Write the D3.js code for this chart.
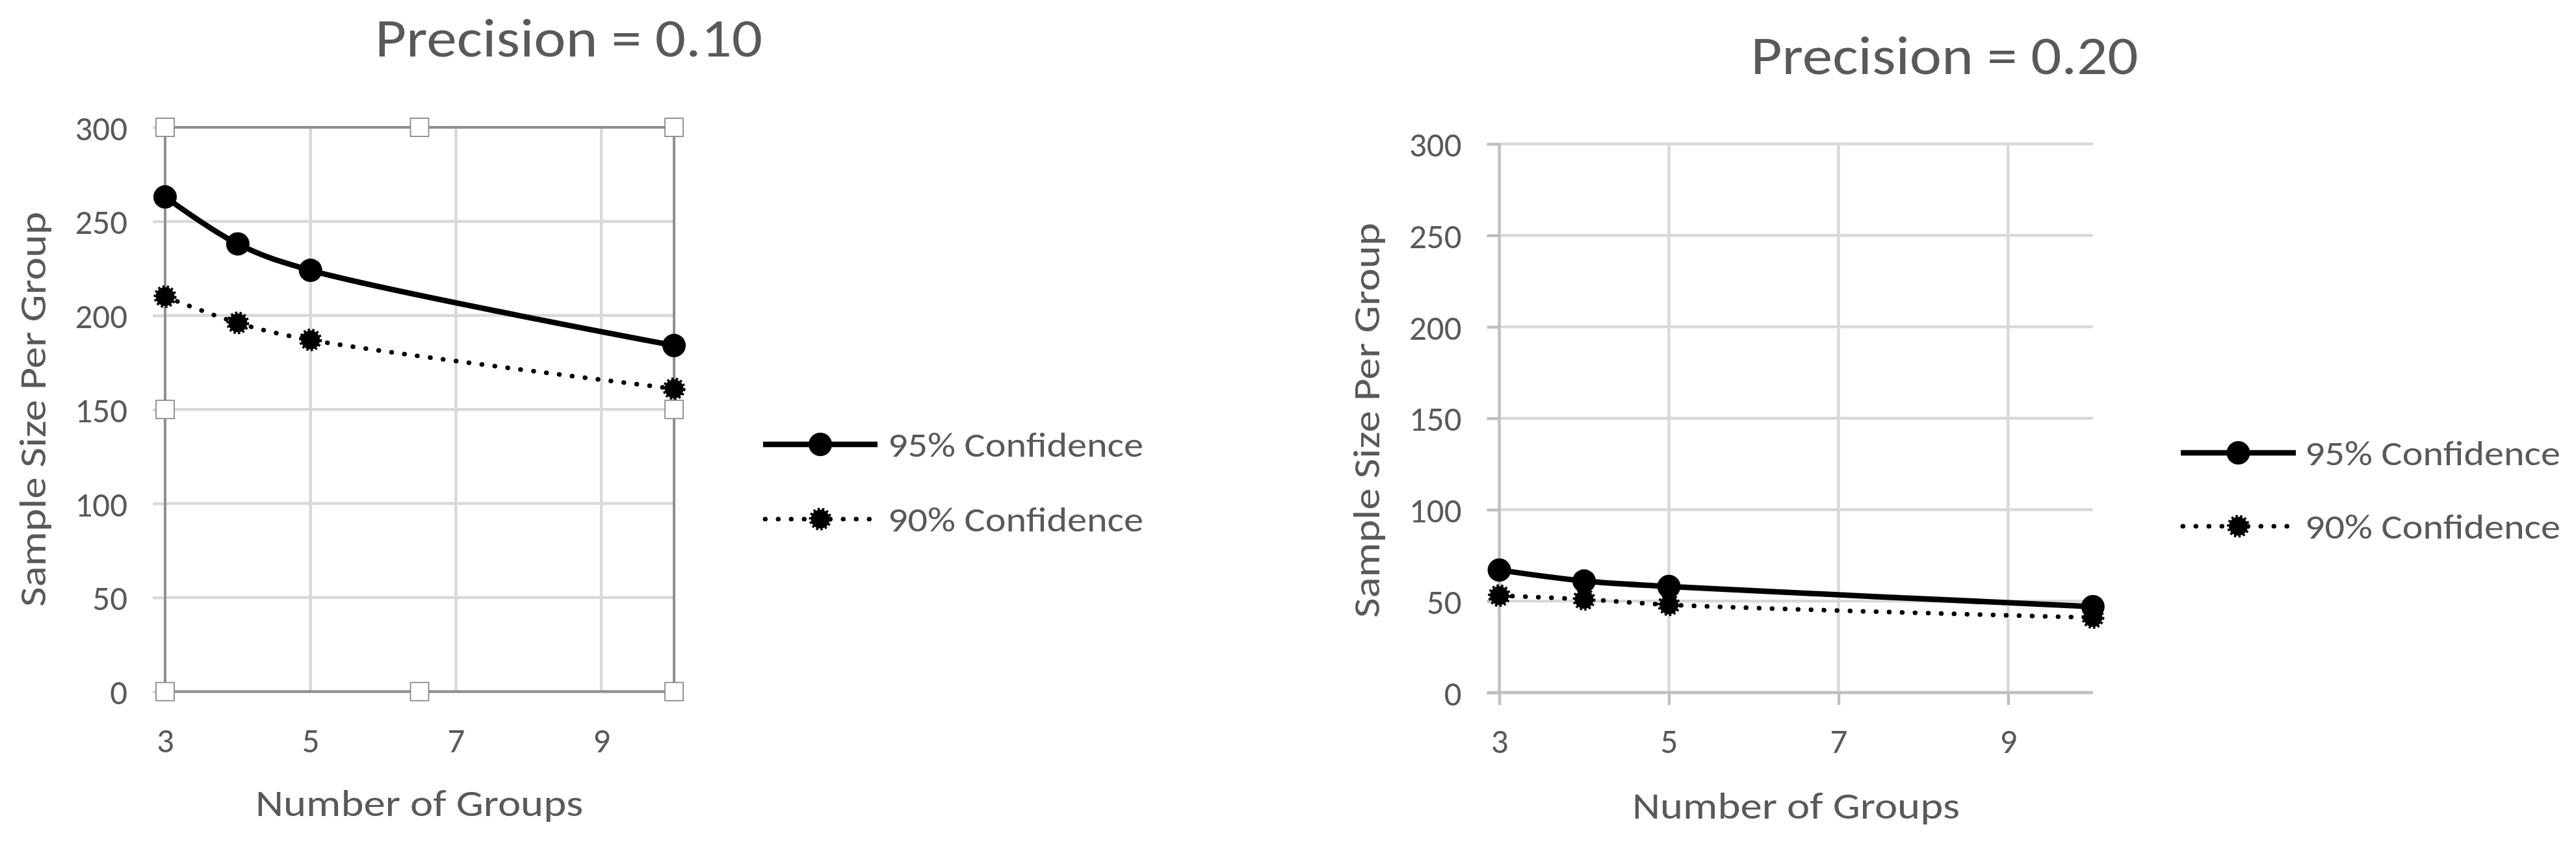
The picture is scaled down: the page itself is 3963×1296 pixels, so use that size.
<!DOCTYPE html>
<html>
<head>
<meta charset="utf-8">
<script src="https://cdn.jsdelivr.net/npm/d3@7"></script>
<style>
  html, body { margin: 0; padding: 0; background: #ffffff; }
  svg { display: block; }
  text { font-family: Carlito, Calibri, Lato, "Open Sans", sans-serif; fill: #595959; }
</style>
</head>
<body>
<svg id="chart" width="3963" height="1296"></svg>
<script>
// ---- data ----
const groups = [3, 4, 5, 10];
const xTicks = [3, 5, 7, 9];
const yTicks = [0, 50, 100, 150, 200, 250, 300];
const conf95_p10 = [263, 238, 224, 184];
const conf90_p10 = [210, 196, 187, 161];
const conf95_p20 = [67, 61, 58, 47];
const conf90_p20 = [53, 51, 48, 41];
const titles = ["Precision = 0.10", "Precision = 0.20"];
const seriesNames = ["95% Confidence", "90% Confidence"];
const xAxisTitle = "Number of Groups";
const yAxisTitle = "Sample Size Per Group";

// ---- layout ----
const panels = [
  { title: titles[0], s95: conf95_p10, s90: conf90_p10, selected: true,
    plot: { x0: 254, x1: 1037, y0: 196, y1: 1064.5 },
    titlePos: { x: 875, y: 87 }, yTitle: { x: 70, y: 630 }, xTitle: { x: 645, y: 1256 },
    legend: { lx0: 1174, lx1: 1350, tx: 1366, rows: [684, 799] } },
  { title: titles[1], s95: conf95_p20, s90: conf90_p20, selected: false,
    plot: { x0: 2306.6, x1: 3219.8, y0: 221.5, y1: 1066 },
    titlePos: { x: 2991.5, y: 114 }, yTitle: { x: 2122, y: 647 }, xTitle: { x: 2763, y: 1260 },
    legend: { lx0: 3355, lx1: 3532, tx: 3546, rows: [697, 810] } }
];

const svg = d3.select("#chart");
const GRID = "#d9d9d9";

function marker95(sel) {
  sel.attr("r", 18).attr("fill", "#000");
}
function marker90(sel) {
  sel.attr("r", 14.5).attr("fill", "#000").attr("stroke", "#000")
     .attr("stroke-width", 6).attr("stroke-dasharray", "3.2 3.2");
}

panels.forEach(p => {
  const g = svg.append("g");
  const x = d3.scaleLinear().domain([3, 10]).range([p.plot.x0, p.plot.x1]);
  const y = d3.scaleLinear().domain([0, 300]).range([p.plot.y1, p.plot.y0]);
  const axisCol = p.selected ? "#8f8f8f" : "#bfbfbf";

  // horizontal gridlines
  g.append("g").selectAll("line").data(yTicks).join("line")
    .attr("x1", p.plot.x0).attr("x2", p.plot.x1)
    .attr("y1", d => y(d)).attr("y2", d => y(d))
    .attr("stroke", GRID).attr("stroke-width", 4.5);
  // vertical gridlines
  g.append("g").selectAll("line").data(xTicks.filter(d => d !== 3)).join("line")
    .attr("x1", d => x(d)).attr("x2", d => x(d))
    .attr("y1", p.plot.y0).attr("y2", p.plot.y1)
    .attr("stroke", GRID).attr("stroke-width", 4.5);

  // y axis (tick marks + labels)
  const yAx = g.append("g").attr("transform", `translate(${p.plot.x0},0)`)
    .call(d3.axisLeft(y).tickValues(yTicks).tickSize(19).tickPadding(39).tickSizeOuter(0));
  yAx.select(".domain").remove();
  yAx.selectAll(".tick line").attr("stroke", p.selected ? GRID : "#bfbfbf").attr("stroke-width", 4.5);
  yAx.selectAll(".tick text").attr("font-size", 53).attr("dy", "0.36em");

  // x axis (labels, ticks on right panel only)
  const xAx = g.append("g").attr("transform", `translate(0,${p.plot.y1})`)
    .call(d3.axisBottom(x).tickValues(xTicks).tickSize(p.selected ? 0 : 19).tickSizeOuter(0).tickFormat(d3.format("d")));
  xAx.select(".domain").remove();
  xAx.selectAll(".tick line").attr("stroke", "#bfbfbf").attr("stroke-width", 4.5);
  xAx.selectAll(".tick text").attr("font-size", 53).attr("y", 93).attr("dy", 0);
  g.selectAll(".tick text").attr("font-family", null).attr("fill", "#595959");

  // axis / border lines
  if (p.selected) {
    g.append("rect").attr("x", p.plot.x0).attr("y", p.plot.y0)
      .attr("width", p.plot.x1 - p.plot.x0).attr("height", p.plot.y1 - p.plot.y0)
      .attr("fill", "none").attr("stroke", axisCol).attr("stroke-width", 4);
  } else {
    g.append("line").attr("x1", p.plot.x0).attr("x2", p.plot.x0)
      .attr("y1", p.plot.y0).attr("y2", p.plot.y1)
      .attr("stroke", axisCol).attr("stroke-width", 4.5);
    g.append("line").attr("x1", p.plot.x0 - 19).attr("x2", p.plot.x1)
      .attr("y1", p.plot.y1).attr("y2", p.plot.y1)
      .attr("stroke", axisCol).attr("stroke-width", 4.5);
  }

  // series
  const line = d3.line().x(d => x(d[0])).y(d => y(d[1])).curve(d3.curveCatmullRom.alpha(0.5));
  const d95 = groups.map((gx, i) => [gx, p.s95[i]]);
  const d90 = groups.map((gx, i) => [gx, p.s90[i]]);

  g.append("path").datum(d90).attr("d", line).attr("fill", "none")
    .attr("stroke", "#000").attr("stroke-width", 7).attr("stroke-linecap", "round")
    .attr("stroke-dasharray", "0.5 19.5");
  g.append("path").datum(d95).attr("d", line).attr("fill", "none")
    .attr("stroke", "#000").attr("stroke-width", 8.5);
  g.append("g").selectAll("circle").data(d90).join("circle")
    .attr("cx", d => x(d[0])).attr("cy", d => y(d[1])).call(marker90);
  g.append("g").selectAll("circle").data(d95).join("circle")
    .attr("cx", d => x(d[0])).attr("cy", d => y(d[1])).call(marker95);

  // selection handles (left chart is selected in Excel)
  if (p.selected) {
    const xm = (p.plot.x0 + p.plot.x1) / 2, ym = (p.plot.y0 + p.plot.y1) / 2;
    const handles = [[p.plot.x0, p.plot.y0], [xm, p.plot.y0], [p.plot.x1, p.plot.y0],
                     [p.plot.x0, ym], [p.plot.x1, ym],
                     [p.plot.x0, p.plot.y1], [xm, p.plot.y1], [p.plot.x1, p.plot.y1]];
    g.append("g").selectAll("rect").data(handles).join("rect")
      .attr("x", d => d[0] - 14).attr("y", d => d[1] - 14)
      .attr("width", 28).attr("height", 28)
      .attr("fill", "#fff").attr("stroke", "#8a8a8a").attr("stroke-width", 1.8);
  }

  // title
  g.append("text").attr("x", p.titlePos.x).attr("y", p.titlePos.y)
    .attr("text-anchor", "middle").attr("font-size", 84)
    .attr("textLength", 596).attr("lengthAdjust", "spacingAndGlyphs")
    .text(p.title);

  // axis titles
  g.append("text").attr("x", p.xTitle.x).attr("y", p.xTitle.y)
    .attr("text-anchor", "middle").attr("font-size", 57)
    .attr("textLength", 504).attr("lengthAdjust", "spacingAndGlyphs")
    .text(xAxisTitle);
  g.append("text").attr("transform", `translate(${p.yTitle.x},${p.yTitle.y}) rotate(-90)`)
    .attr("text-anchor", "middle").attr("font-size", 57)
    .attr("textLength", 608).attr("lengthAdjust", "spacingAndGlyphs")
    .text(yAxisTitle);

  // legend
  const L = p.legend;
  const lg = g.append("g");
  lg.append("line").attr("x1", L.lx0).attr("x2", L.lx1)
    .attr("y1", L.rows[0]).attr("y2", L.rows[0])
    .attr("stroke", "#000").attr("stroke-width", 8.5);
  lg.append("circle").attr("cx", (L.lx0 + L.lx1) / 2).attr("cy", L.rows[0]).call(marker95);
  lg.append("line").attr("x1", L.lx0 + 3).attr("x2", L.lx1 - 3)
    .attr("y1", L.rows[1]).attr("y2", L.rows[1])
    .attr("stroke", "#000").attr("stroke-width", 7).attr("stroke-linecap", "round")
    .attr("stroke-dasharray", "0.5 19.5");
  lg.append("circle").attr("cx", (L.lx0 + L.lx1) / 2).attr("cy", L.rows[1]).call(marker90);
  lg.selectAll("text.leg").data(seriesNames).join("text")
    .attr("class", "leg")
    .attr("x", L.tx).attr("y", (d, i) => L.rows[i] + 19)
    .attr("font-size", 54)
    .attr("textLength", 393).attr("lengthAdjust", "spacingAndGlyphs")
    .text(d => d);
});
</script>
</body>
</html>
